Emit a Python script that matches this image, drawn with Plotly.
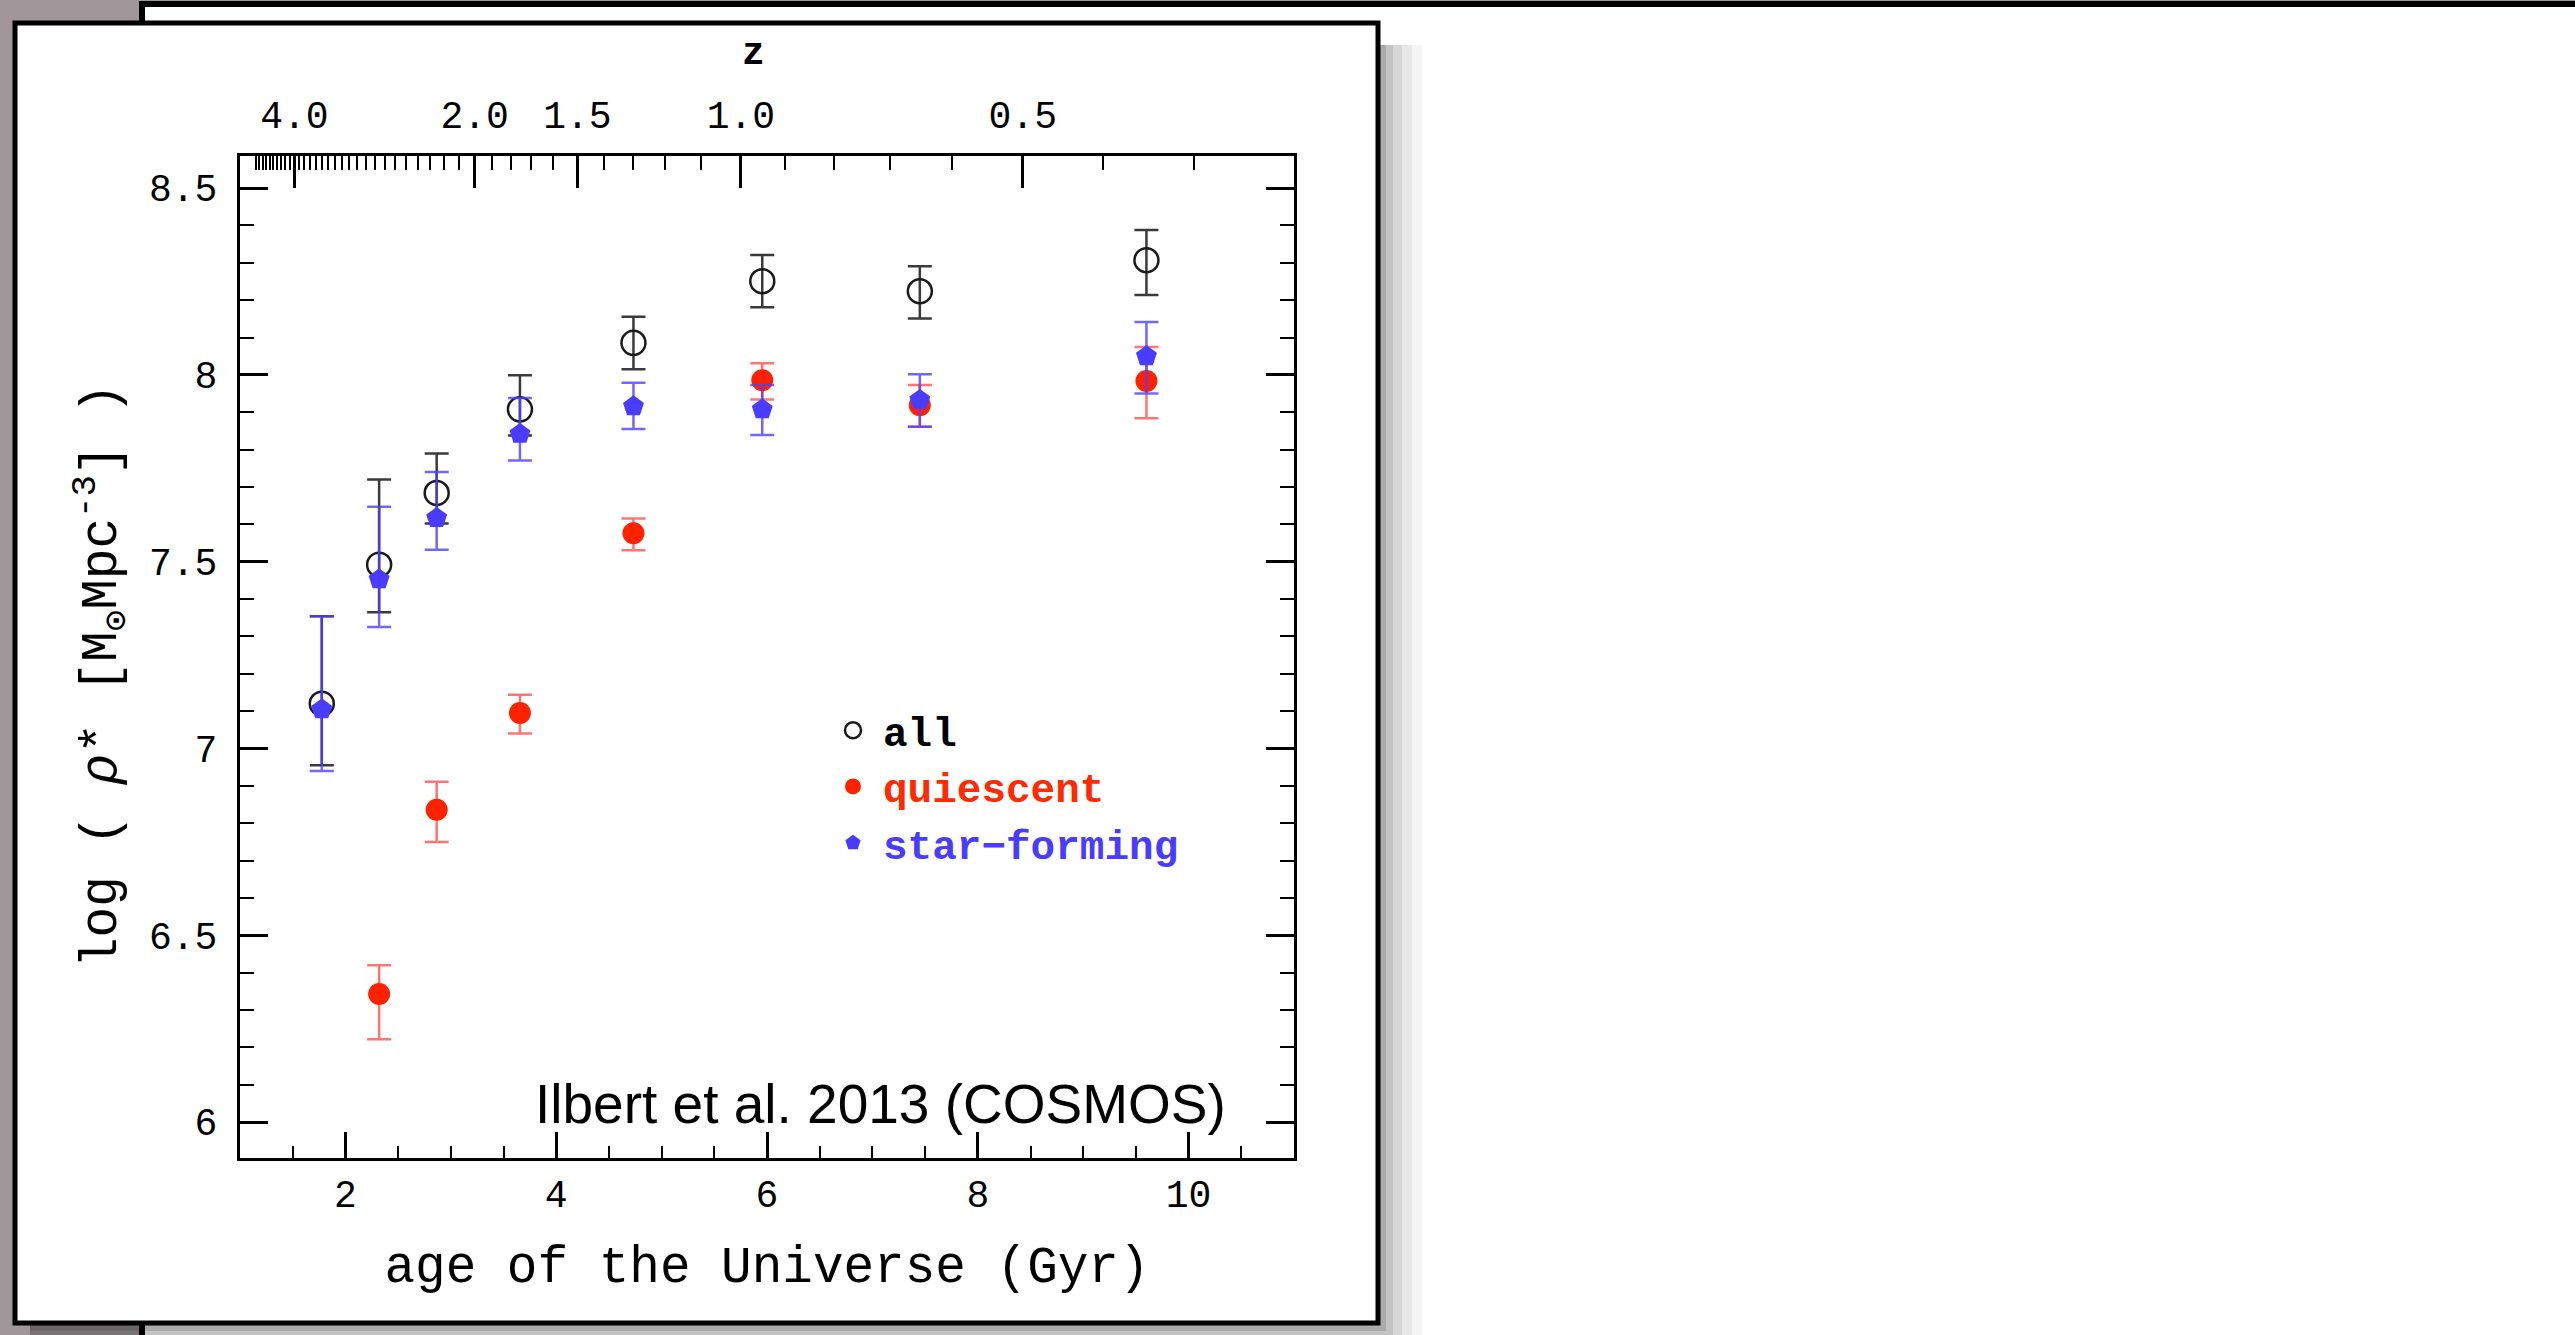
import numpy as np
import plotly.graph_objects as go

# ---------------- data ----------------
age = [1.776, 2.32, 2.866, 3.656, 4.733, 5.955, 7.45, 9.60]

all_val = [7.120, 7.492, 7.684, 7.908, 8.086, 8.251, 8.224, 8.307]
all_up = [0.234, 0.228, 0.106, 0.091, 0.070, 0.070, 0.067, 0.081]
all_dn = [0.165, 0.127, 0.082, 0.070, 0.071, 0.070, 0.073, 0.093]

q_age = [2.32, 2.866, 3.656, 4.733, 5.955, 7.45, 9.60]
q_val = [6.343, 6.836, 7.095, 7.576, 7.986, 7.919, 7.984]
q_up = [0.077, 0.075, 0.049, 0.040, 0.045, 0.054, 0.091]
q_dn = [0.121, 0.086, 0.055, 0.045, 0.052, 0.058, 0.100]

sf_val = [7.105, 7.453, 7.617, 7.842, 7.916, 7.908, 7.933, 8.050]
sf_up = [0.249, 0.194, 0.123, 0.096, 0.063, 0.065, 0.069, 0.092]
sf_dn = [0.165, 0.128, 0.085, 0.071, 0.061, 0.069, 0.072, 0.100]

z_major = [4.0, 2.0, 1.5, 1.0, 0.5]
z_labels = ["4.0", "2.0", "1.5", "1.0", "0.5"]
z_minor = [z for z in np.round(np.arange(0.3, 5.05, 0.1), 1) if z not in z_major]


# flat LCDM (H0=70, Om=0.3) age of the Universe at redshift z, in Gyr
def age_at(z, H0=70.0, Om=0.3):
    OL = 1.0 - Om
    tH = 977.8 / H0
    return 2.0 * tH / (3.0 * np.sqrt(OL)) * np.arcsinh(np.sqrt(OL / Om) * (1.0 + np.asarray(z)) ** -1.5)


# ---------------- figure geometry ----------------
W, H = 2575, 1335
L, R, T, B = 240, 1294, 156, 1158
XR = [1, 11]


def px(x):
    return (x - L) / (R - L)


def py(y):
    return (B - y) / (B - T)


MONO = "Liberation Mono, DejaVu Sans Mono, monospace"

fig = go.Figure()

fig.add_trace(go.Scatter(
    x=age, y=all_val, mode="markers", name="<b>all</b>",
    marker=dict(symbol="circle-open", size=24, color="#1a1a1a", line=dict(width=2.5, color="#1a1a1a")),
    error_y=dict(type="data", symmetric=False, array=all_up, arrayminus=all_dn,
                 color="#3a3a3a", thickness=2.5, width=12),
))
fig.add_trace(go.Scatter(
    x=q_age, y=q_val, mode="markers", name="<span style='color:#ff2a00'><b>quiescent</b></span>",
    marker=dict(symbol="circle", size=22, color="#ff2200"),
    error_y=dict(type="data", symmetric=False, array=q_up, arrayminus=q_dn,
                 color="rgba(255,70,70,0.75)", thickness=2.5, width=12),
))
# drawn on the (identical-range) top axis so the redshift axis is rendered
fig.add_trace(go.Scatter(
    x=age, y=sf_val, mode="markers", xaxis="x2", yaxis="y",
    name="<span style='color:#4a3cff'><b>star\u2212forming</b></span>",
    marker=dict(symbol="pentagon", size=22, color="#4a3cff"),
    error_y=dict(type="data", symmetric=False, array=sf_up, arrayminus=sf_dn,
                 color="rgba(80,64,255,0.8)", thickness=2.5, width=12),
))

# ---------------- slide decoration ----------------
shapes = []
shapes.append(dict(type="rect", xref="paper", yref="paper", layer="below",
                   x0=px(142), x1=px(2620), y0=py(4), y1=py(1420),
                   fillcolor="white", line=dict(color="black", width=6)))
for d, op in [(44, 0.04), (34, 0.05), (24, 0.07), (15, 0.09), (8, 0.12)]:
    shapes.append(dict(type="rect", xref="paper", yref="paper", layer="below",
                       x0=px(30), x1=px(1378 + d), y0=py(45), y1=py(1323 + d),
                       fillcolor="rgba(0,0,0,%.2f)" % op, line=dict(width=0)))
shapes.append(dict(type="rect", xref="paper", yref="paper", layer="below",
                   x0=px(15), x1=px(1378), y0=py(23), y1=py(1323),
                   fillcolor="white", line=dict(color="black", width=5)))

annotations = [
    dict(text="Ilbert et al. 2013 (COSMOS)", xref="paper", yref="paper",
         x=px(1228), y=py(1104), xanchor="right", yanchor="middle", showarrow=False,
         font=dict(family="Liberation Sans, Arial, sans-serif", size=55, color="black")),
    dict(text="<b>z</b>", xref="paper", yref="paper",
         x=px(753), y=py(54), xanchor="center", yanchor="middle", showarrow=False,
         font=dict(family=MONO, size=38, color="black")),
    dict(text="log ( <i>\u03c1</i>* [M<sub>\u2299</sub>Mpc<sup>-3</sup>] )", xref="paper", yref="paper",
         x=px(101), y=py(676), xanchor="center", yanchor="middle", textangle=-90, showarrow=False,
         font=dict(family=MONO, size=51, color="black")),
]

fig.update_layout(
    width=W, height=H,
    margin=dict(l=L, r=W - R, t=T, b=H - B, pad=0),
    paper_bgcolor="#a1979a",
    plot_bgcolor="white",
    shapes=shapes,
    annotations=annotations,
    font=dict(family=MONO, color="black"),
    showlegend=True,
    legend=dict(x=px(823), y=py(697), xanchor="left", yanchor="top",
                font=dict(family=MONO, size=41, color="black"),
                bgcolor="rgba(0,0,0,0)", itemwidth=50, tracegroupgap=0),
    xaxis=dict(
        range=XR, tick0=0, dtick=2, ticks="inside", ticklen=26, tickwidth=2.5, tickcolor="black",
        showline=True, linewidth=3, linecolor="black", mirror=False, showgrid=False, zeroline=False,
        minor=dict(dtick=0.5, ticks="inside", ticklen=12, tickwidth=2, tickcolor="black", showgrid=False),
        tickfont=dict(family=MONO, size=38, color="black"),
        title=dict(text="age of the Universe (Gyr)", font=dict(family=MONO, size=51, color="black"), standoff=30),
    ),
    xaxis2=dict(
        overlaying="x", anchor="y", side="top", range=XR,
        tickmode="array", tickvals=list(age_at(z_major)), ticktext=z_labels,
        ticks="inside", ticklen=32, tickwidth=2.5, tickcolor="black",
        minor=dict(tickmode="array", tickvals=list(age_at(z_minor)), ticks="inside",
                   ticklen=14, tickwidth=1.5, tickcolor="black", showgrid=False),
        showline=True, linewidth=3, linecolor="black", showgrid=False, zeroline=False,
        tickfont=dict(family=MONO, size=38, color="black"), ticklabelstandoff=10,
    ),
    yaxis=dict(
        range=[5.904, 8.586], tick0=0, dtick=0.5, ticks="inside", ticklen=28, tickwidth=2.5, tickcolor="black",
        showline=True, linewidth=3, linecolor="black", mirror="ticks", showgrid=False, zeroline=False,
        minor=dict(dtick=0.1, ticks="inside", ticklen=14, tickwidth=2, tickcolor="black", showgrid=False),
        tickfont=dict(family=MONO, size=38, color="black"), ticklabelstandoff=12,
    ),
)

fig.write_html("out.html")
